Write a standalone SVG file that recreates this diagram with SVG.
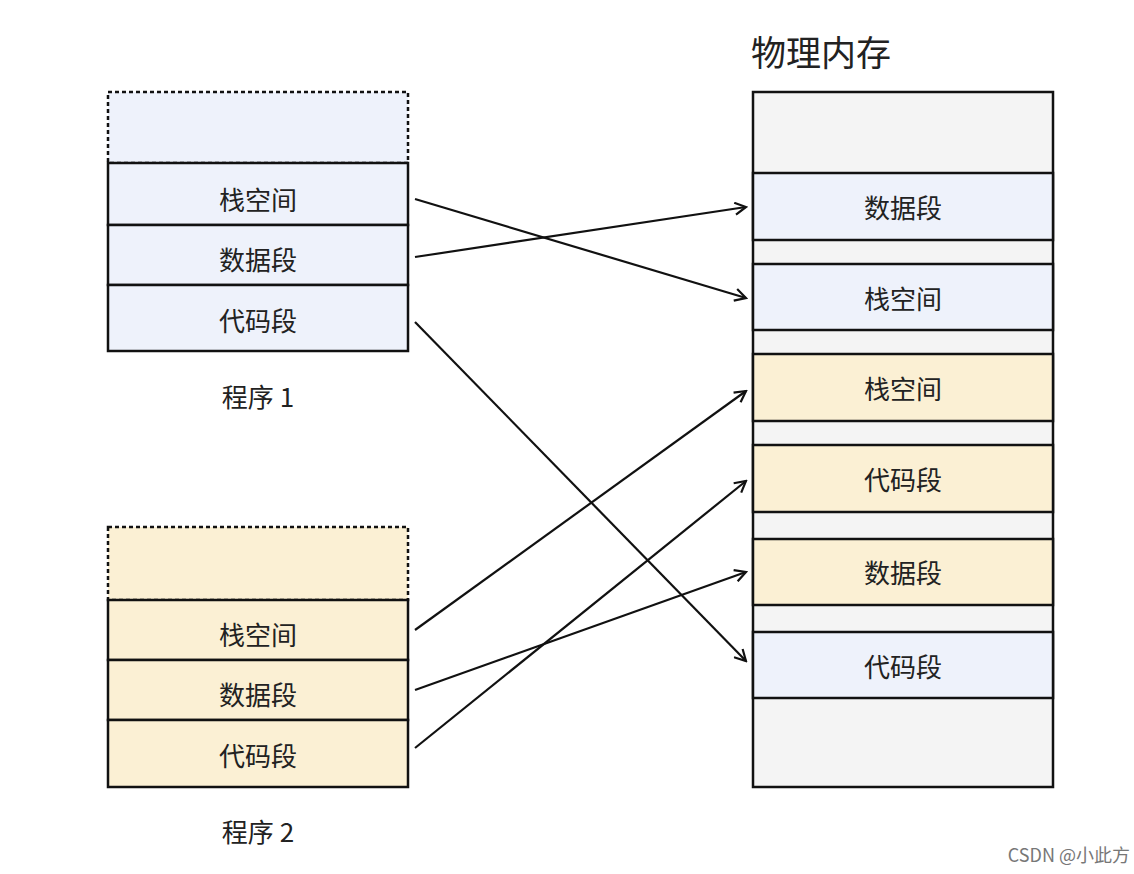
<svg xmlns="http://www.w3.org/2000/svg" width="1134" height="874" viewBox="0 0 1134 874">
<style>
.b{fill:#eef2fb;stroke:#111;stroke-width:2.5}
.y{fill:#fbf0d4;stroke:#111;stroke-width:2.5}
.d{stroke-dasharray:4 3}
.t{font-family:"Noto Sans CJK SC","Noto Sans",sans-serif;font-size:26px;fill:#222;text-anchor:middle;dominant-baseline:central}
.c{stroke:#111;stroke-width:2.2;fill:none;marker-end:url(#a)}
</style>
<defs><marker id="a" markerWidth="14" markerHeight="14" refX="12" refY="7" orient="auto" markerUnits="userSpaceOnUse"><path d="M1,1 L12,7 L1,13" fill="none" stroke="#111" stroke-width="2.2"/></marker></defs>
<rect width="1134" height="874" fill="#fff"/>
<g id="p1">
<rect class="b d" x="108" y="92" width="300" height="71"/>
<rect class="b" x="108" y="163" width="300" height="62"/><text class="t" x="258" y="198">栈空间</text>
<rect class="b" x="108" y="225" width="300" height="60"/><text class="t" x="258" y="258">数据段</text>
<rect class="b" x="108" y="285" width="300" height="66"/><text class="t" x="258" y="319">代码段</text>
<text class="t" x="258" y="395">程序 1</text>
</g>
<g id="p2">
<rect class="y d" x="108" y="527" width="300" height="73"/>
<rect class="y" x="108" y="600" width="300" height="60"/><text class="t" x="258" y="633">栈空间</text>
<rect class="y" x="108" y="660" width="300" height="60"/><text class="t" x="258" y="693">数据段</text>
<rect class="y" x="108" y="720" width="300" height="67"/><text class="t" x="258" y="754">代码段</text>
<text class="t" x="258" y="830">程序 2</text>
</g>
<g id="mem">
<text x="751" y="66" font-family="Noto Sans CJK SC,sans-serif" font-size="35" fill="#222">物理内存</text>
<rect x="753" y="92" width="300" height="695" fill="#f4f4f4" stroke="#111" stroke-width="2.5"/>
<rect class="b" x="753" y="173" width="300" height="67"/><text class="t" x="903" y="206">数据段</text>
<rect class="b" x="753" y="264" width="300" height="66"/><text class="t" x="903" y="297">栈空间</text>
<rect class="y" x="753" y="354" width="300" height="67"/><text class="t" x="903" y="387">栈空间</text>
<rect class="y" x="753" y="445" width="300" height="67"/><text class="t" x="903" y="478">代码段</text>
<rect class="y" x="753" y="539" width="300" height="66"/><text class="t" x="903" y="571">数据段</text>
<rect class="b" x="753" y="632" width="300" height="66"/><text class="t" x="903" y="665">代码段</text>
</g>
<g id="connectors">
<line class="c" x1="415" y1="199" x2="746" y2="298"/>
<line class="c" x1="415" y1="257" x2="746" y2="207"/>
<line class="c" x1="415" y1="322" x2="746" y2="661"/>
<line class="c" x1="415" y1="630" x2="746" y2="391"/>
<line class="c" x1="415" y1="690" x2="746" y2="572"/>
<line class="c" x1="415" y1="748" x2="746" y2="481"/>
</g>
<text x="1130" y="862" text-anchor="end" font-family="Noto Sans CJK SC,sans-serif" font-size="18" fill="#777">CSDN @小此方</text>
</svg>
